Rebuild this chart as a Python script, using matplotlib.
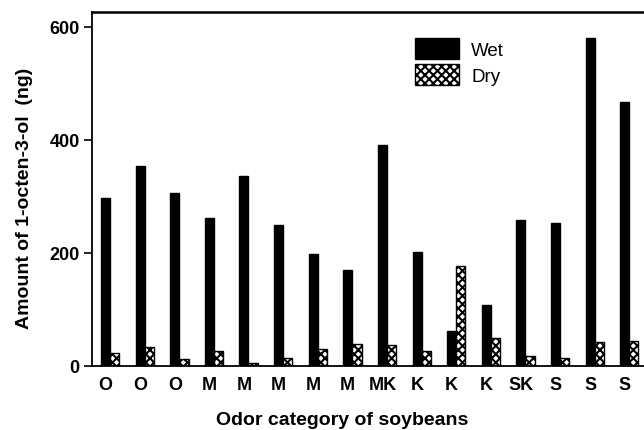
import matplotlib.pyplot as plt
import numpy as np

plt.rcParams['font.family'] = ['Liberation Sans', 'DejaVu Sans']
plt.rcParams['hatch.linewidth'] = 1.5

categories = ['O', 'O', 'O', 'M', 'M', 'M', 'M', 'M', 'MK', 'K', 'K', 'K', 'SK', 'S', 'S', 'S']
wet = [297, 354, 306, 262, 336, 250, 198, 170, 391, 202, 62, 108, 258, 253, 580, 467]
dry = [23, 34, 12, 27, 5, 15, 30, 39, 37, 26, 177, 49, 17, 14, 42, 44]

x = np.arange(len(categories))

fig = plt.figure(figsize=(6.44, 4.31), dpi=100)
ax = fig.add_axes([0.143, 0.1485, 0.857, 0.8215])

ax.bar(x, wet, width=0.26, color='black', edgecolor='black', label='Wet')
ax.bar(x + 0.265, dry, width=0.27, color='white', edgecolor='black',
       hatch='xxxx', linewidth=1.0, label='Dry')

ax.set_xlim(-0.39, 15.56)
ax.set_ylim(0, 626)
ax.set_yticks([0, 200, 400, 600])
ax.set_xticks(x)
ax.set_xticklabels(categories, fontweight='bold', fontsize=13)
ax.tick_params(axis='x', length=0, pad=7)
ax.tick_params(axis='y', direction='out', length=6, width=1.2, labelsize=13, pad=3)
for lab in ax.get_yticklabels():
    lab.set_fontweight('bold')

ax.spines['right'].set_visible(False)
ax.spines['top'].set_linewidth(1.8)
ax.spines['left'].set_linewidth(1.3)
ax.spines['bottom'].set_linewidth(1.3)

ax.set_ylabel('Amount of 1-octen-3-ol  (ng)', fontweight='bold', fontsize=14)
ax.yaxis.set_label_coords(-0.107, 0.475)
ax.set_xlabel('Odor category of soybeans', fontweight='bold', fontsize=14)
ax.xaxis.set_label_coords(0.453, -0.128)

ax.legend(loc='upper left', bbox_to_anchor=(0.585, 0.927), frameon=False,
          fontsize=13.5, handlelength=2.35, handleheight=1.35, borderpad=0,
          borderaxespad=0, handletextpad=0.64, labelspacing=0.3)

fig.savefig('out.png', dpi=100)
